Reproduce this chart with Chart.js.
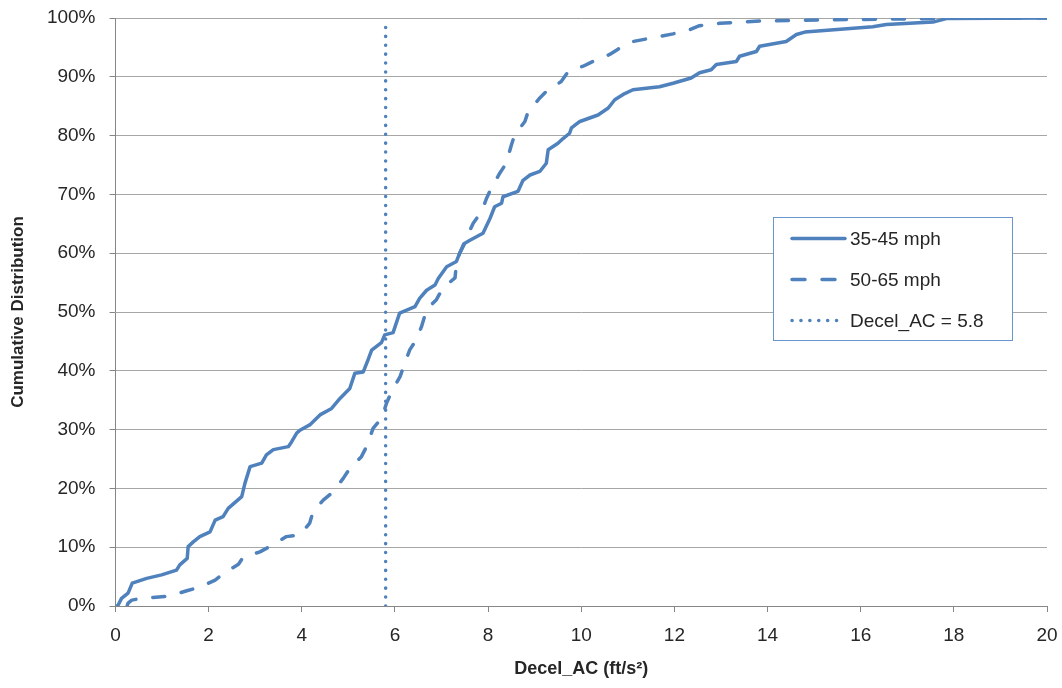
<!DOCTYPE html>
<html>
<head>
<meta charset="utf-8">
<script src="https://cdn.jsdelivr.net/npm/chart.js@4.4.1/dist/chart.umd.min.js"></script>
<style>
  html, body { margin: 0; padding: 0; background: #fff; }
  #wrap { width: 1062px; height: 688px; }
</style>
</head>
<body>
<div id="wrap"><canvas id="chart" width="1062" height="688"></canvas></div>
<script>
// 35-45 mph cumulative curve
const slowX = [0.03, 0.06, 0.13, 0.27, 0.36, 0.67, 0.99, 1.31, 1.38, 1.54, 1.56, 1.67, 1.81, 2.03, 2.14, 2.31, 2.42, 2.71, 2.78, 2.89,
  3.14, 3.24, 3.39, 3.71, 3.78, 3.89, 3.96, 4.17, 4.39, 4.64, 4.82, 5.03, 5.14, 5.32, 5.42, 5.50, 5.71, 5.78, 5.96, 6.10,
  6.43, 6.53, 6.68, 6.86, 6.93, 7.11, 7.32, 7.39, 7.50, 7.61, 7.89, 8.04, 8.14, 8.29, 8.32, 8.64, 8.75, 8.90, 9.11, 9.25,
  9.29, 9.50, 9.61, 9.75, 9.79, 9.97, 10.36, 10.58, 10.72, 10.90, 11.11, 11.68, 11.97, 12.36, 12.54, 12.79, 12.90, 13.33, 13.40, 13.76,
  13.83, 14.40, 14.62, 14.80, 16.26, 16.55, 17.55, 17.84, 20];
const slowY = [0, 0.2, 1.3, 2.2, 3.9, 4.7, 5.3, 6.1, 7.0, 8.1, 10.1, 10.9, 11.8, 12.6, 14.6, 15.2, 16.6, 18.6, 20.9, 23.7,
  24.3, 25.7, 26.6, 27.1, 27.9, 29.4, 29.9, 30.8, 32.5, 33.6, 35.3, 37.0, 39.6, 39.8, 41.8, 43.5, 44.8, 46.1, 46.5, 49.8,
  50.9, 52.3, 53.7, 54.6, 55.7, 57.7, 58.6, 60.0, 61.7, 62.2, 63.4, 65.9, 67.9, 68.5, 69.6, 70.5, 72.4, 73.3, 73.9, 75.3,
  77.6, 78.7, 79.5, 80.4, 81.3, 82.4, 83.5, 84.7, 86.1, 87.0, 87.8, 88.3, 88.9, 89.8, 90.7, 91.2, 92.1, 92.6, 93.5, 94.3,
  95.2, 96.0, 97.2, 97.6, 98.5, 98.9, 99.3, 99.9, 100];

// 50-65 mph cumulative curve
const fastX = [0.25, 0.27, 0.35, 0.56, 1.17, 1.53, 1.81, 2.14, 2.35, 2.64, 2.74, 3.10, 3.31, 3.67, 3.96, 4.17, 4.24, 4.46, 4.67, 4.89,
  5.03, 5.28, 5.39, 5.53, 5.71, 5.82, 5.93, 6.11, 6.21, 6.32, 6.46, 6.57, 6.68, 6.89, 7.03, 7.29, 7.32, 7.39, 7.50, 7.68,
  7.86, 7.97, 8.07, 8.25, 8.39, 8.50, 8.57, 8.79, 8.86, 9.11, 9.25, 9.57, 9.72, 10.04, 10.25, 10.61, 10.79, 11.11, 11.97, 12.33,
  12.54, 12.97, 13.83, 15.40, 17.55, 17.76, 20];
const fastY = [0, 0.5, 1.0, 1.3, 1.7, 2.6, 3.2, 4.4, 5.7, 7.1, 8.3, 9.2, 10.1, 11.8, 12.1, 14.1, 16.0, 18.0, 19.4, 21.7,
  23.4, 25.4, 27.1, 30.2, 31.9, 34.5, 36.5, 39.0, 41.3, 43.6, 45.3, 47.5, 50.4, 52.1, 54.1, 55.8, 58.3, 60.0, 62.0, 65.1,
  67.1, 69.4, 71.1, 73.6, 75.3, 78.4, 80.1, 82.4, 84.1, 86.4, 87.5, 89.2, 90.9, 91.8, 92.6, 93.8, 94.7, 96.0, 97.3, 98.0,
  98.7, 99.1, 99.5, 99.7, 99.9, 100, 100];

// threshold line
const thresholdX = 5.8;
const thresholdY = [0, 99.5];

const seriesNames = ['35-45 mph', '50-65 mph', 'Decel_AC = 5.8'];
const xTicks = [0, 2, 4, 6, 8, 10, 12, 14, 16, 18, 20];
const yTicks = [0, 10, 20, 30, 40, 50, 60, 70, 80, 90, 100];

const BLUE = '#4F81BD';
const TEXT = '#262626';
const FONT = "'Liberation Sans', Arial, sans-serif";

const zip = (xs, ys) => xs.map((x, i) => ({ x, y: ys[i] }));

// legend box drawn inside the plot area
const boxLegend = {
  id: 'boxLegend',
  afterDraw(chart) {
    const ctx = chart.ctx;
    const left = 773.5, top = 217.5, w = 239, h = 123;
    ctx.save();
    ctx.fillStyle = '#fff';
    ctx.fillRect(left, top, w, h);
    ctx.strokeStyle = '#6a95cc';
    ctx.lineWidth = 1;
    ctx.strokeRect(left, top, w, h);

    chart.data.datasets.forEach((ds, i) => {
      const y = top + 21 + i * 41;
      ctx.strokeStyle = ds.borderColor;
      ctx.lineWidth = ds.borderWidth;
      ctx.lineCap = ds.borderCapStyle || 'butt';
      ctx.setLineDash(ds.legendDash || []);
      ctx.beginPath();
      ctx.moveTo(792, y);
      ctx.lineTo(845, y);
      ctx.stroke();
      ctx.setLineDash([]);
      ctx.fillStyle = TEXT;
      ctx.font = '19px ' + FONT;
      ctx.textBaseline = 'middle';
      ctx.textAlign = 'left';
      ctx.fillText(ds.label, 850, y + 1);
    });
    ctx.restore();
  }
};

new Chart(document.getElementById('chart'), {
  type: 'scatter',
  data: {
    datasets: [
      {
        label: seriesNames[0],
        data: zip(slowX, slowY),
        showLine: true,
        borderColor: BLUE,
        borderWidth: 3.5,
        borderCapStyle: 'round',
        borderJoinStyle: 'round',
        pointRadius: 0,
        tension: 0
      },
      {
        label: seriesNames[1],
        data: zip(fastX, fastY),
        showLine: true,
        borderColor: BLUE,
        borderWidth: 3.5,
        borderCapStyle: 'round',
        borderJoinStyle: 'round',
        borderDash: [12, 17],
        legendDash: [13, 17],
        pointRadius: 0,
        tension: 0
      },
      {
        label: seriesNames[2],
        data: thresholdY.map((y) => ({ x: thresholdX, y })),
        showLine: true,
        borderColor: BLUE,
        borderWidth: 3.5,
        borderCapStyle: 'round',
        borderDash: [0.1, 8.8],
        legendDash: [0.1, 8.8],
        pointRadius: 0,
        tension: 0
      }
    ]
  },
  options: {
    responsive: false,
    animation: false,
    layout: { padding: { left: 0, right: 15, top: 18, bottom: 0 } },
    plugins: {
      legend: { display: false },
      tooltip: { enabled: false }
    },
    scales: {
      x: {
        type: 'linear',
        min: 0,
        max: 20,
        afterBuildTicks: (axis) => { axis.ticks = xTicks.map((v) => ({ value: v })); },
        afterFit: (axis) => {
          axis.height = 82;
          axis.paddingLeft = 0;
          axis.paddingRight = 0;
        },
        grid: { display: true, drawOnChartArea: false, drawTicks: true, tickLength: 6, color: '#868686' },
        border: { color: '#868686', width: 1 },
        ticks: { color: TEXT, font: { family: FONT, size: 19 }, padding: 12, maxRotation: 0 },
        title: {
          display: true,
          text: 'Decel_AC (ft/s²)',
          color: TEXT,
          font: { family: FONT, size: 18, weight: 'bold' },
          padding: { top: 4, bottom: 8 }
        }
      },
      y: {
        min: 0,
        max: 100,
        afterBuildTicks: (axis) => { axis.ticks = yTicks.map((v) => ({ value: v })); },
        afterFit: (axis) => {
          axis.width = 115.5;
          axis.paddingTop = 0;
          axis.paddingBottom = 0;
        },
        grid: { color: '#a6a6a6', lineWidth: 1, drawTicks: true, tickLength: 6, tickColor: '#868686' },
        border: { color: '#868686', width: 1 },
        ticks: {
          color: TEXT,
          font: { family: FONT, size: 19 },
          padding: 14,
          callback: (v) => v + '%'
        },
        title: {
          display: true,
          text: 'Cumulative Distribution',
          color: TEXT,
          font: { family: FONT, size: 17, weight: 'bold' },
          padding: { top: 8, bottom: 4 }
        }
      }
    }
  },
  plugins: [boxLegend]
});
</script>
</body>
</html>
